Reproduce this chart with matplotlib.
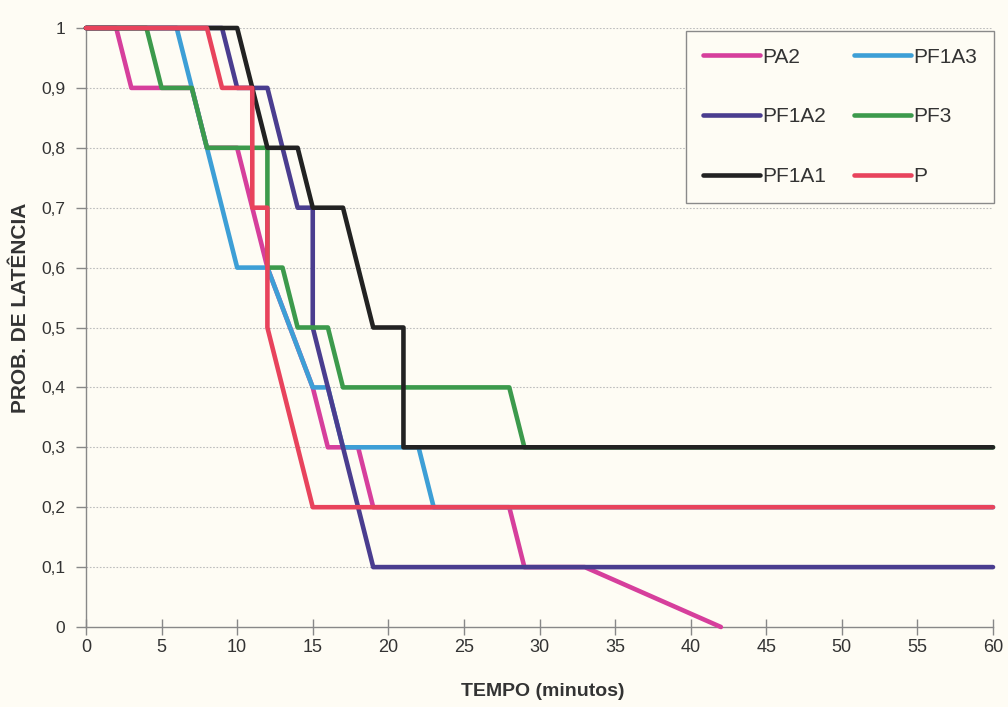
import matplotlib
matplotlib.use("Agg")
import matplotlib.pyplot as plt
from matplotlib.ticker import FixedLocator

# ---- data ----
PA2_t = [0, 2, 3, 7, 8, 10, 12, 15, 16, 18, 19, 28, 29, 33, 42]
PA2_p = [1, 1, 0.9, 0.9, 0.8, 0.8, 0.6, 0.4, 0.3, 0.3, 0.2, 0.2, 0.1, 0.1, 0]

PF1A3_t = [0, 6, 10, 12, 15, 16, 17, 22, 23, 60]
PF1A3_p = [1, 1, 0.6, 0.6, 0.4, 0.4, 0.3, 0.3, 0.2, 0.2]

PF1A2_t = [0, 9, 10, 12, 14, 15, 15, 19, 60]
PF1A2_p = [1, 1, 0.9, 0.9, 0.7, 0.7, 0.5, 0.1, 0.1]

PF3_t = [0, 4, 5, 7, 8, 12, 12, 13, 14, 16, 17, 28, 29, 60]
PF3_p = [1, 1, 0.9, 0.9, 0.8, 0.8, 0.6, 0.6, 0.5, 0.5, 0.4, 0.4, 0.3, 0.3]

PF1A1_t = [0, 10, 12, 14, 15, 17, 19, 21, 21, 60]
PF1A1_p = [1, 1, 0.8, 0.8, 0.7, 0.7, 0.5, 0.5, 0.3, 0.3]

P_t = [0, 8, 9, 11, 11, 12, 12, 15, 60]
P_p = [1, 1, 0.9, 0.9, 0.7, 0.7, 0.5, 0.2, 0.2]

x_ticks = list(range(0, 61, 5))
y_ticks = [i / 10 for i in range(11)]
y_labels = ["0", "0,1", "0,2", "0,3", "0,4", "0,5", "0,6", "0,7", "0,8", "0,9", "1"]

series = [
    ("PA2", PA2_t, PA2_p, "#d63f9c"),
    ("PF1A3", PF1A3_t, PF1A3_p, "#3d9fd6"),
    ("PF1A2", PF1A2_t, PF1A2_p, "#4a3d8f"),
    ("PF3", PF3_t, PF3_p, "#3c9a4c"),
    ("PF1A1", PF1A1_t, PF1A1_p, "#222222"),
    ("P", P_t, P_p, "#e8435c"),
]

BG = "#fefcf4"
SANS = ["Liberation Sans", "DejaVu Sans"]

fig = plt.figure(figsize=(10.08, 7.07), dpi=100, facecolor=BG)
ax = fig.add_axes([86 / 1008, 1 - 627 / 707, (993 - 86) / 1008, (627 - 28) / 707])
ax.set_facecolor(BG)

handles = {}
for name, t, p, c in series:
    (ln,) = ax.plot(t, p, color=c, lw=3.3, solid_capstyle="round",
                    solid_joinstyle="round", label=name, clip_on=False, zorder=3)
    handles[name] = ln

ax.set_xlim(0, 60)
ax.set_ylim(0, 1)
ax.xaxis.set_major_locator(FixedLocator(x_ticks))
ax.yaxis.set_major_locator(FixedLocator(y_ticks))
ax.set_xticklabels([str(v) for v in x_ticks], fontfamily=SANS, fontsize=13, color="#333333")
ax.set_yticklabels(y_labels, fontfamily=SANS, fontsize=12.5, color="#333333")

for s in ["top", "right"]:
    ax.spines[s].set_visible(False)
for s in ["left", "bottom"]:
    ax.spines[s].set_color("#888888")
    ax.spines[s].set_linewidth(1.0)

ax.tick_params(axis="x", direction="inout", length=12, width=1, color="#888888", pad=3)
ax.tick_params(axis="y", direction="out", length=7, width=1, color="#888888", pad=8)

for y in y_ticks[1:]:
    ax.axhline(y, color="#bdbdbd", lw=0.8, ls=(0, (1.5, 1.5)), zorder=1)

ax.set_xlabel("TEMPO (minutos)", fontfamily=SANS, fontsize=14, fontweight="bold",
              color="#333333")
ax.set_ylabel("PROB. DE LATÊNCIA", fontfamily=SANS, fontsize=15, fontweight="bold",
              color="#333333")
ax.xaxis.set_label_coords((543 - 86) / 907, (627 - 683) / 599)
ax.yaxis.set_label_coords((30 - 86) / 907, (627 - 308) / 599)

order = ["PA2", "PF1A2", "PF1A1", "PF1A3", "PF3", "P"]
leg = ax.legend([handles[n] for n in order], order, ncol=2,
                loc="upper left", bbox_to_anchor=(686 / 1008, 1 - 31 / 707),
                bbox_transform=fig.transFigure, prop={"family": SANS, "size": 15},
                handlelength=2.74, handletextpad=0.1, labelspacing=1.95,
                columnspacing=1.35, borderpad=0.8, borderaxespad=0,
                frameon=True, fancybox=False, edgecolor="#8a8a8a", facecolor=BG,
                framealpha=1)
leg.get_frame().set_linewidth(1.0)
for txt in leg.get_texts():
    txt.set_color("#333333")

fig.savefig("out.png", dpi=100, facecolor=BG)
